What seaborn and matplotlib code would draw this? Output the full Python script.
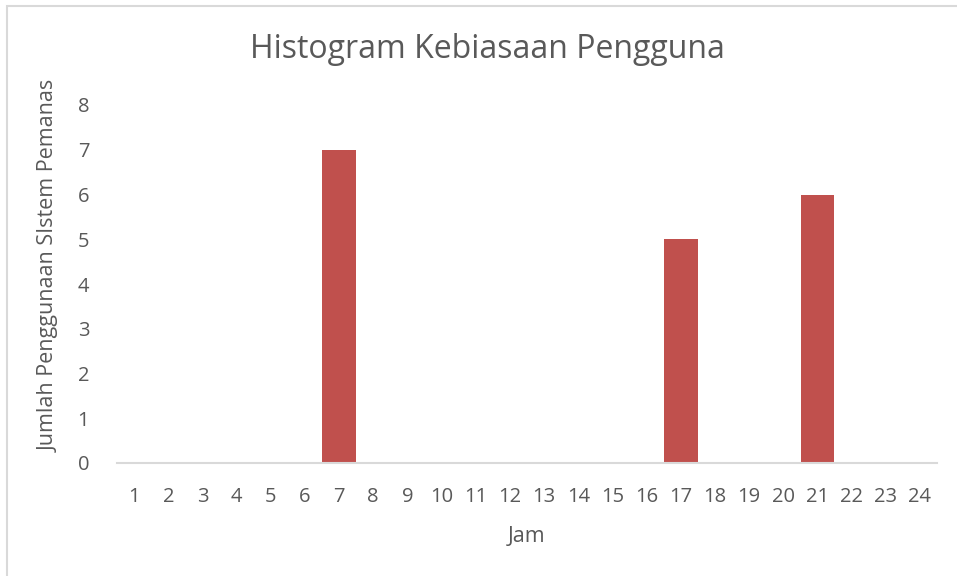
import matplotlib
matplotlib.use("Agg")
import matplotlib.pyplot as plt
import seaborn as sns
from matplotlib.patches import Rectangle

# jam (1..24) dan jumlah penggunaan
jam = [str(h) for h in range(1, 25)]
jumlah = [0, 0, 0, 0, 0, 0, 7, 0, 0, 0, 0, 0,
          0, 0, 0, 0, 5, 0, 0, 0, 6, 0, 0, 0]
y_ticks = [0, 1, 2, 3, 4, 5, 6, 7, 8]

sns.set_style("white")
plt.rcParams["font.family"] = ["Open Sans", "DejaVu Sans"]

fig = plt.figure(figsize=(9.57, 5.76), dpi=100)
W, H = 957, 576
ax = fig.add_axes([117 / W, 113 / H, 820 / W, 358 / H])

# outer chart border like excel
fig.patches.append(Rectangle((7 / W, -0.1), 1.0, (H - 6) / H + 0.1,
                             transform=fig.transFigure, fill=False,
                             edgecolor="#d9d9d9", linewidth=1.5))

sns.barplot(x=jam, y=jumlah, color="#c0504d", width=0.99, linewidth=0,
            saturation=1, ax=ax)

ax.set_xlim(-0.5, 23.5)
ax.set_ylim(0, 8)
ax.set_yticks(y_ticks)
for s in ["top", "right", "left"]:
    ax.spines[s].set_visible(False)
ax.spines["bottom"].set_color("#d9d9d9")
ax.spines["bottom"].set_linewidth(1.5)
ax.tick_params(axis="both", length=0, labelsize=14.5, labelcolor="#595959")
ax.tick_params(axis="y", pad=20)
ax.tick_params(axis="x", pad=17)

ax.set_xlabel("Jam", fontsize=15.5, color="#595959", labelpad=14)
ax.set_ylabel("Jumlah Penggunaan SIstem Pemanas", fontsize=15.5,
              color="#595959")
ax.yaxis.set_label_coords(-57 / 820, 0.55)
fig.text(487 / W, 1 - 50 / H, "Histogram Kebiasaan Pengguna",
         fontsize=23, color="#595959", ha="center", va="center")

fig.savefig("out.png", dpi=100)
